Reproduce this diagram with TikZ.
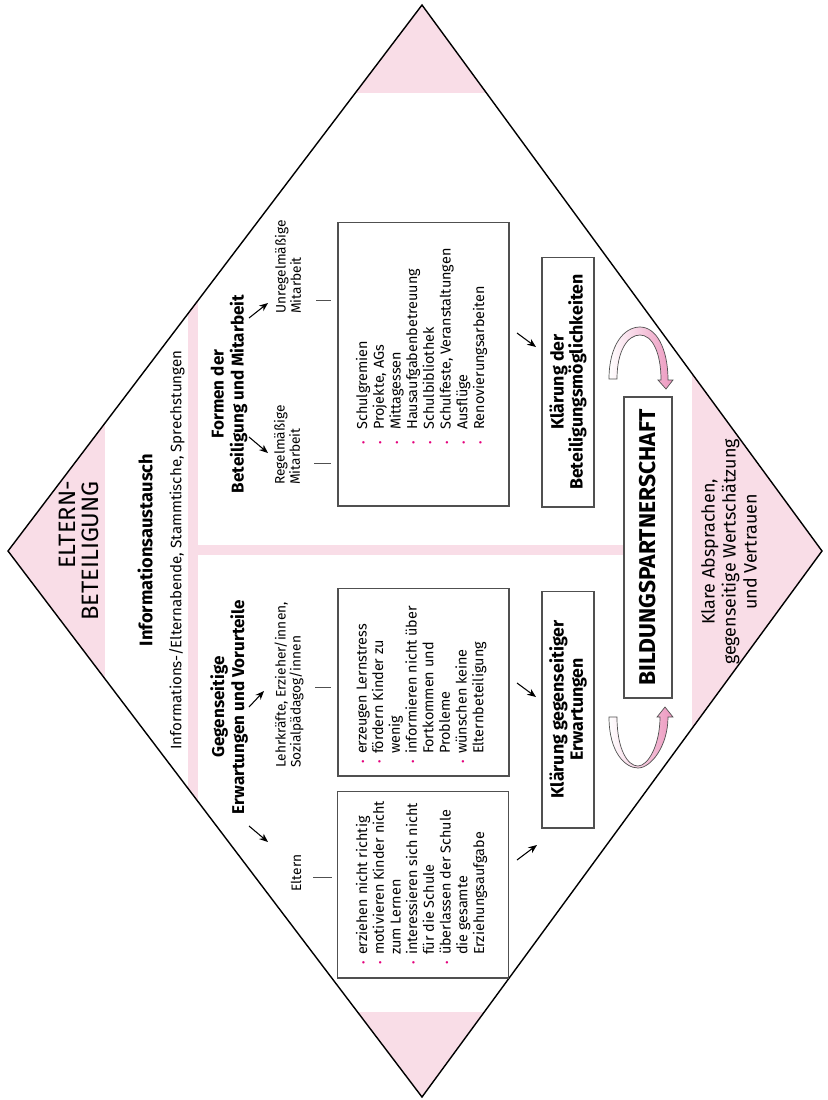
\documentclass[tikz,border=0pt]{standalone}
\usepackage{fontspec}
\setmainfont{Fira Sans}
\usetikzlibrary{arrows.meta, calc}
\definecolor{rosa}{RGB}{249,221,231}
\definecolor{rosadark}{RGB}{236,150,190}
\definecolor{dotmag}{RGB}{228,0,124}
\definecolor{boxgray}{RGB}{80,80,80}
\newcommand{\bul}[1][5.5pt]{\makebox[#1][l]{\textcolor{dotmag}{\fontsize{6}{6}\selectfont •}}}
\newcommand{\cont}[1][5.5pt]{\hspace*{#1}}
\tikzset{
  rot/.style={rotate=90, inner sep=0pt},
  head/.style={rot, font=\bfseries\fontsize{9.7}{11.4}\selectfont, align=center},
  small/.style={rot, font=\fontsize{7.8}{8.6}\selectfont, align=left},
  listing/.style={rot, font=\fontsize{8.2}{9.5}\selectfont, align=left},
  listbox/.style={rot, draw=boxgray, line width=0.6pt, minimum height=3.42cm},
  clarify/.style={rot, draw=boxgray, line width=0.6pt,
                  font=\bfseries\fontsize{10.1}{10.9}\selectfont,
                  align=center, minimum height=1.04cm},
  arr/.style={-{Stealth[length=5pt, width=4pt]}, line width=0.6pt},
  tick/.style={draw=boxgray, line width=0.5pt},
  turn/.style={draw=boxgray, line width=0.4pt, left color=white, right color=rosadark},
}
\begin{document}
\begin{tikzpicture}[x=0.02cm, y=-0.02cm]
  \useasboundingbox (0,0) rectangle (828,1100);
  \coordinate (top) at (422,5);
  \coordinate (lft) at (8,551);
  \coordinate (rgt) at (822,551);
  \coordinate (bot) at (422,1097);

  % pink corners and cross
  \begin{scope}
    \clip (top) -- (rgt) -- (bot) -- (lft) -- cycle;
    \fill[rosa] (0,0) rectangle (828,93);
    \fill[rosa] (0,1012) rectangle (828,1100);
    \fill[rosa] (0,0) rectangle (105,1100);
    \fill[rosa] (692,0) rectangle (828,1100);
    \fill[rosa] (188,0) rectangle (198,1100);
    \fill[rosa] (198,545) rectangle (624,555);
  \end{scope}
  \draw[line width=0.8pt] (top) -- (rgt) -- (bot) -- (lft) -- cycle;

  \node[rot, font=\fontsize{13.5}{13}\selectfont, align=right] (eltbet) at (79,551) {ELTERN-\\BETEILIGUNG};
  \node[head, font=\bfseries\fontsize{10.4}{12}\selectfont] (info) at (145,550) {Informationsaustausch};
  \node[rot, font=\fontsize{8.6}{9}\selectfont] (infotxt) at (177,550)
    {Informations-/Elternabende, Stammtische, Sprechstungen};

  \node[head]  (formen)  at (229,394) {Formen der\\Beteiligung und Mitarbeit};
  \node[small] (regel)   at (287,445) {Regelmäßige\\Mitarbeit};
  \node[small] (unregel) at (288,267) {Unregelmäßige\\Mitarbeit};
  \node[listbox, minimum width=5.68cm] (formbox) at (423.5,364) {};
  \node[listing, anchor=west] (formlist) at (421.5,445) {%
    \bul[8.5pt]Schulgremien\\
    \bul[8.5pt]Projekte, AGs\\
    \bul[8.5pt]Mittagessen\\
    \bul[8.5pt]Hausaufgabenbetreuung\\
    \bul[8.5pt]Schulbibliothek\\
    \bul[8.5pt]Schulfeste, Veranstaltungen\\
    \bul[8.5pt]Ausflüge\\
    \bul[8.5pt]Renovierungsarbeiten};
  \node[clarify, minimum width=5cm] (klar1) at (568,382) {Klärung der\\Beteiligungsmöglichkeiten};

  \node[head]  (gegen)  at (229,707) {Gegenseitige\\Erwartungen und Vorurteile};
  \node[small] (lehr)   at (289,685) {Lehrkräfte, Erzieher/innen,\\Sozialpädagog/innen};
  \node[small] (eltern) at (296,873) {Eltern};
  \node[listbox, minimum width=3.76cm] (lehrbox) at (423.5,682) {};
  \node[listing, anchor=west] (lehrlist) at (421.5,764) {%
    \bul erzeugen Lernstress\\
    \bul fördern Kinder zu\\
    \cont wenig\\
    \bul informieren nicht über\\
    \cont Fortkommen und\\
    \cont Probleme\\
    \bul wünschen keine\\
    \cont Elternbeteiligung};
  \node[listbox, minimum width=3.74cm] (eltbox) at (423,884.5) {};
  \node[listing, anchor=west] (eltlist) at (421.5,965) {%
    \bul erziehen nicht richtig\\
    \bul motivieren Kinder nicht\\
    \cont zum Lernen\\
    \bul interessieren sich nicht\\
    \cont für die Schule\\
    \bul überlassen der Schule\\
    \cont die gesamte\\
    \cont Erziehungsaufgabe};
  \node[clarify, minimum width=4.74cm] (klar2) at (568,709.5) {Klärung gegenseitiger\\Erwartungen};

  \node[rot, draw=boxgray, line width=0.7pt, font=\bfseries\fontsize{13}{14}\selectfont,
        minimum width=6.02cm, minimum height=0.96cm] (partner) at (648,547.5) {BILDUNGSPARTNERSCHAFT};
  \node[rot, font=\fontsize{10.2}{11.9}\selectfont, align=center] (klare) at (729,552)
    {Klare Absprachen,\\gegenseitige Wertschätzung\\und Vertrauen};

  \draw[arr] ($(formen)+(20,43)$)   -- ($(regel)+(-19,8)$);
  \draw[arr] ($(formen)+(20,-76)$)  -- ($(unregel)+(-20,36)$);
  \draw[arr] ($(gegen)+(20,0)$)     -- ($(lehr)+(-25,6)$);
  \draw[arr] ($(gegen)+(20,119)$)   -- ($(eltern)+(-28,-31)$);
  \draw[arr] ($(formbox)+(93.5,-31)$) -- ($(klar1)+(-32,-35)$);
  \draw[arr] ($(lehrbox)+(93.5,1)$)   -- ($(klar2)+(-32,-12.5)$);
  \draw[arr] ($(eltbox)+(94,-24.5)$)  -- ($(klar2)+(-31,135.5)$);

  \draw[tick] ($(regel)+(27,18)$)   -- ($(formbox.north)+(-6,99)$);
  \draw[tick] ($(unregel)+(28,33)$) -- ($(formbox.north)+(-6,-64)$);
  \draw[tick] ($(lehr)+(26,2)$)     -- ($(lehrbox.north)+(-6,5)$);
  \draw[tick] ($(eltern)+(17,4)$)   -- ($(eltbox.north)+(-5,-7.5)$);

  % turning arrows
  \draw[turn] (609,379) .. controls (609,345) and (624,327) .. (640,327)
    .. controls (656,327) and (668,348) .. (668,380) -- (673,380) -- (666,389)
    -- (658,380) -- (661,380) .. controls (661,352) and (652,335) .. (640,335)
    .. controls (628,335) and (617,350) .. (617,379) -- cycle;
  \draw[turn] (609,717) .. controls (609,752) and (625,768) .. (638,768)
    .. controls (651,768) and (668,746) .. (668,717) -- (673,717) -- (665,707)
    -- (657,717) -- (660,717) .. controls (660,745) and (648,766) .. (638,766)
    .. controls (628,766) and (617,750) .. (617,717) -- cycle;
\end{tikzpicture}
\end{document}
